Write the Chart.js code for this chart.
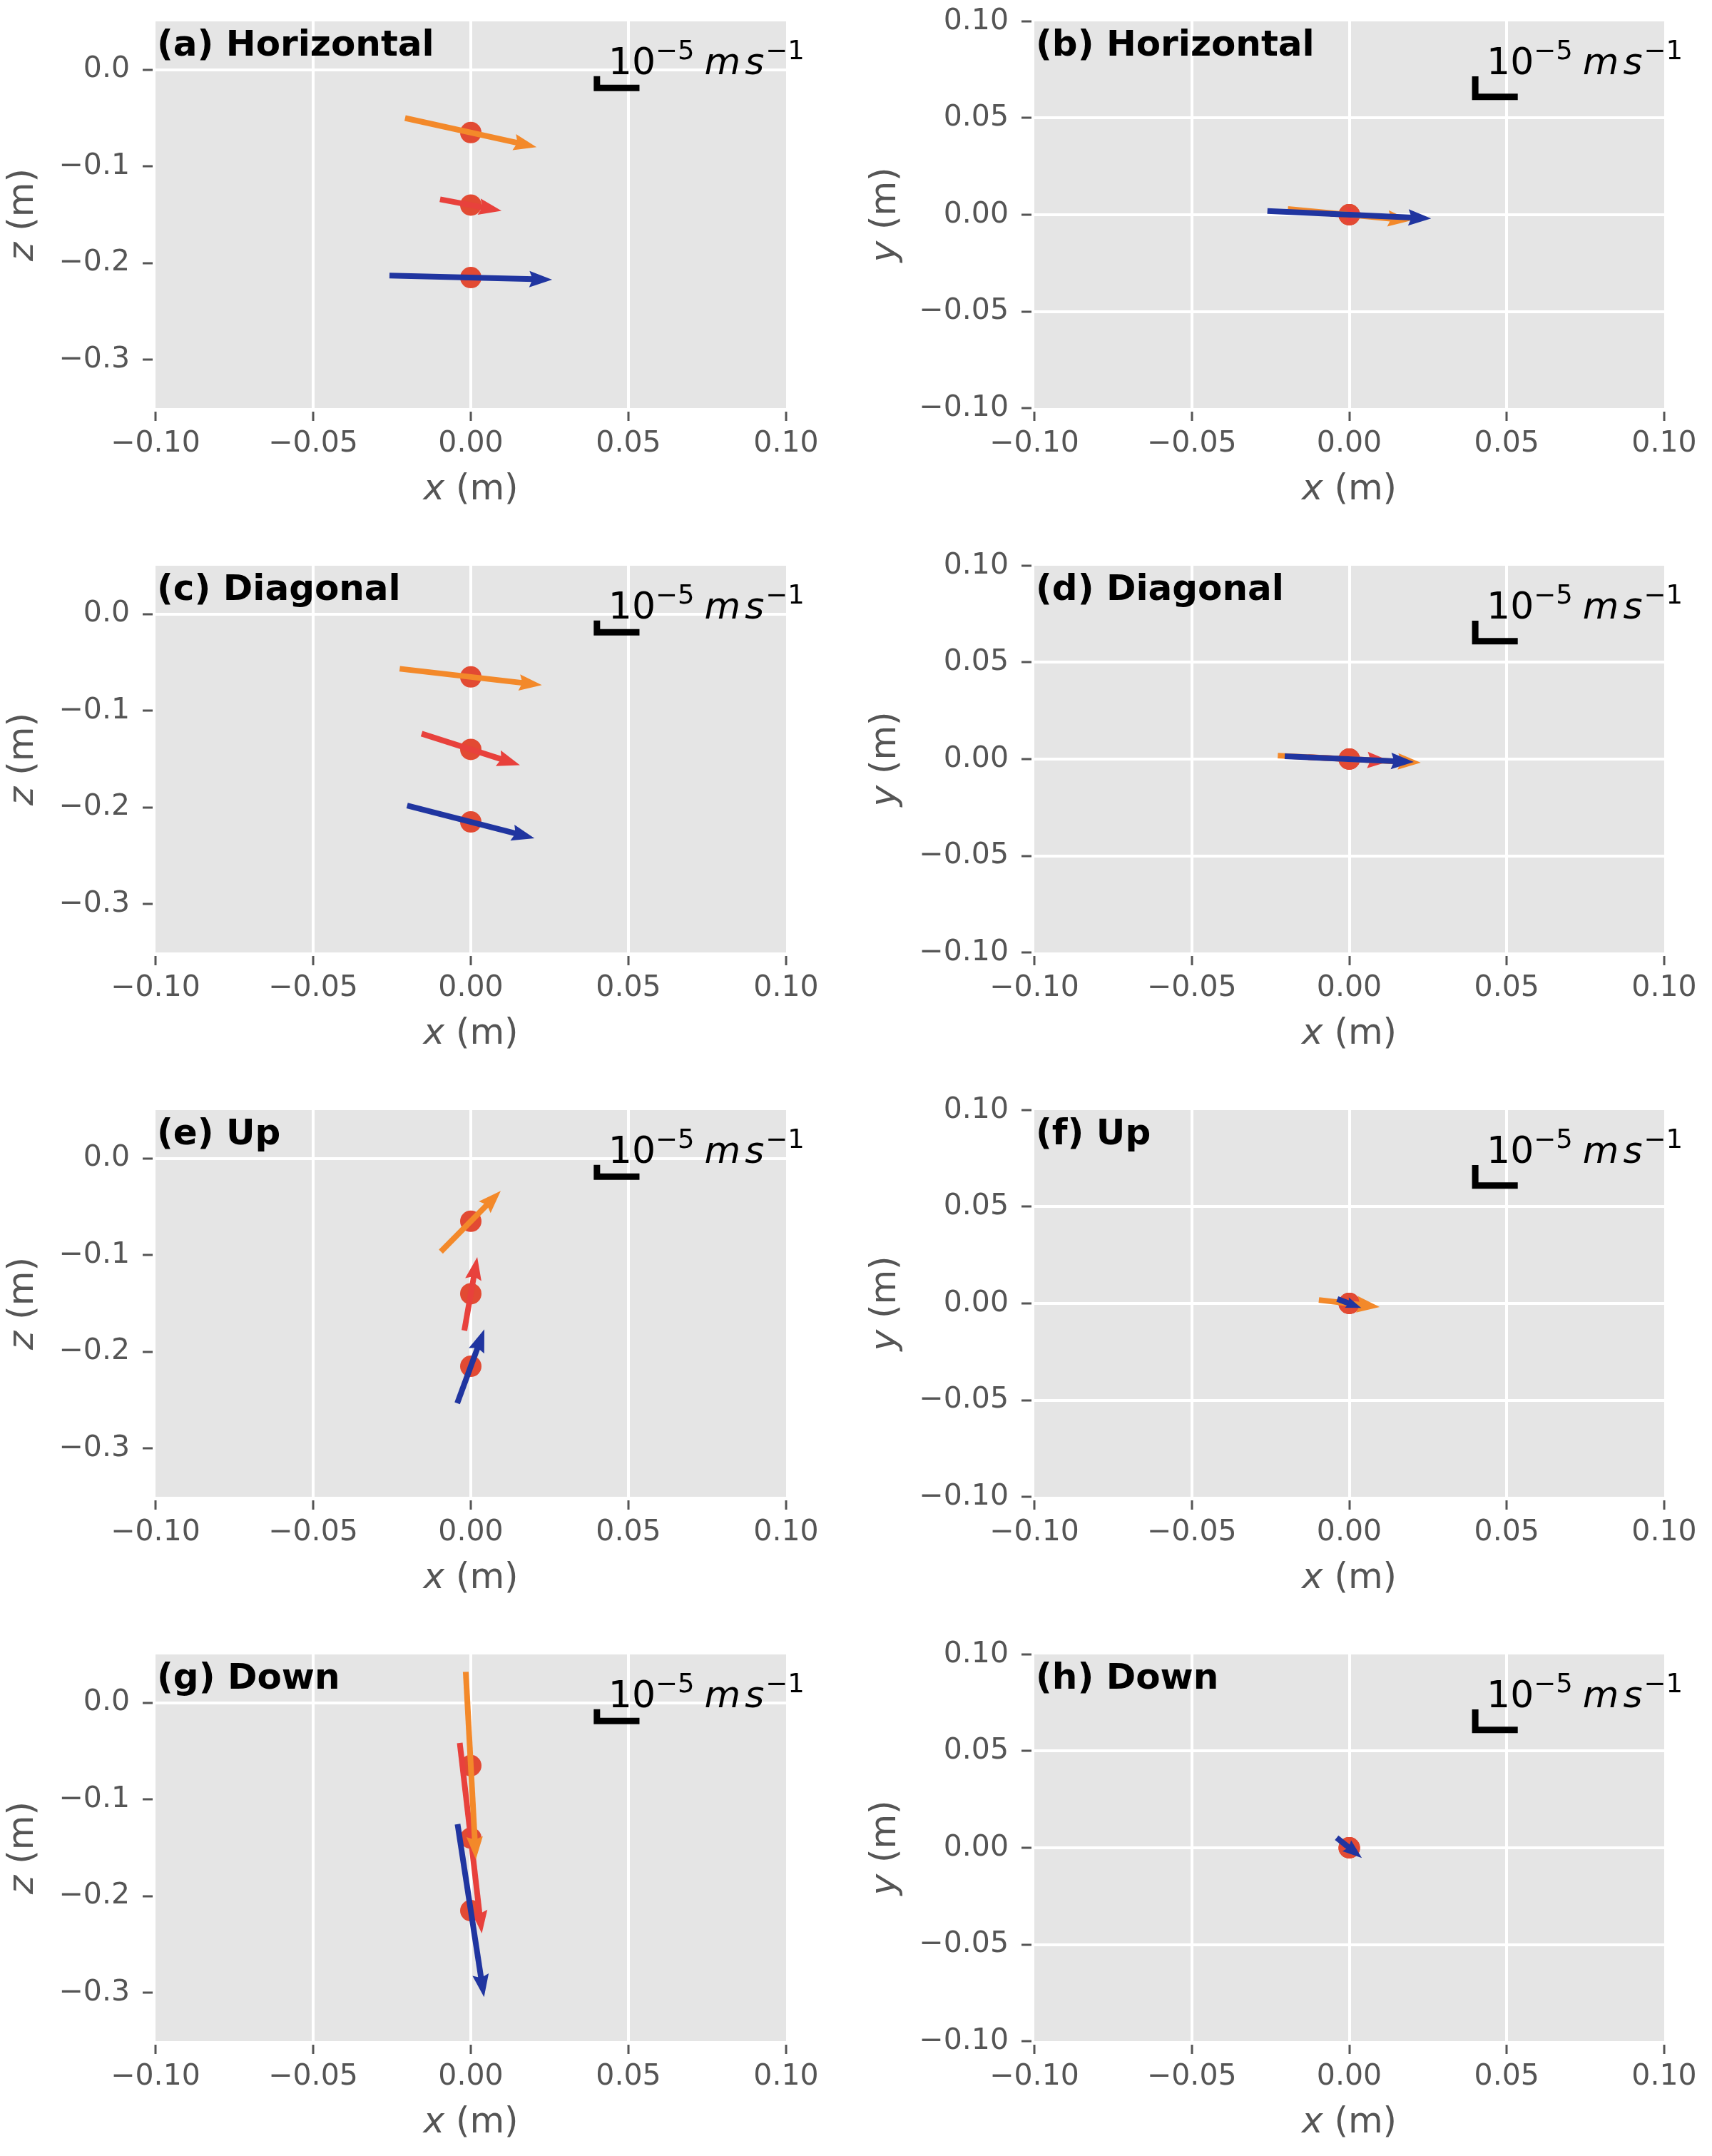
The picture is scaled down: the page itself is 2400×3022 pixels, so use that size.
<!DOCTYPE html>
<html>
<head>
<meta charset="utf-8">
<script src="https://cdn.jsdelivr.net/npm/chart.js@4.4.1/dist/chart.umd.min.js"></script>
<style>
  html, body { margin: 0; padding: 0; background: #fff; overflow: hidden; }
  #fig { position: relative; width: 2400px; height: 3022px; overflow: hidden; }
  #fig canvas { position: absolute; }
</style>
</head>
<body>
<div id="fig"></div>
<script>
// tick labels
const xTicks = [-0.10, -0.05, 0.00, 0.05, 0.10];
const zTicks = [0.0, -0.1, -0.2, -0.3];
const yTicks = [-0.10, -0.05, 0.00, 0.05, 0.10];

// probe positions (the dots)
const probeX = [0, 0, 0];
const probeZ = [-0.065, -0.14, -0.215];
const probeY = [0, 0, 0];

// arrow components in axis units (orange, red, blue), drawn centred on the probe
// x-z panels
const aU = [0.0417, 0.0195, 0.0516], aW = [-0.0300, -0.0120, -0.0043];
const cU = [0.0451, 0.0312, 0.0404], cW = [-0.0169, -0.0325, -0.0340];
const eU = [0.0190, 0.0041, 0.0086], eW = [0.0628, 0.0760, 0.0764];
const gU = [0.0032, 0.0070, 0.0084], gW = [-0.1940, -0.1970, -0.1790];
// x-y panels
const bU = [0.0390, 0.0120, 0.0520], bV = [-0.0060, -0.0010, -0.0038];
const dU = [0.0454, 0.0260, 0.0410], dV = [-0.0036, -0.0020, -0.0030];
const fU = [0.0193, 0.0050, 0.0076], fV = [-0.0036, -0.0010, -0.0046];
const hU = [0.0020, 0.0040, 0.0080], hV = [-0.0020, -0.0040, -0.0105];

const panelTitles = ['(a) Horizontal', '(b) Horizontal', '(c) Diagonal', '(d) Diagonal',
                     '(e) Up', '(f) Up', '(g) Down', '(h) Down'];
const panelU = [aU, bU, cU, dU, eU, fU, gU, hU];
const panelV = [aW, bV, cW, dV, eW, fV, gW, hV];

// styles
const arrowColors = ['#F3892A', '#E8413C', '#2035A0'];
const arrowOrder = [3, 4, 2];          // red under orange under blue
const dotColor = '#E24A33';
const bgColor = '#E5E5E5';
const tickColor = '#555555';
const FONT = '"DejaVu Sans"';

const minus = s => s.replace('-', '\u2212');

function drawParts(ctx, parts, x, y, align) {
  let total = 0;
  parts.forEach(p => { ctx.font = p.font; total += ctx.measureText(p.t).width + (p.gap || 0); });
  let cx = align === 'center' ? x - total / 2 : x;
  parts.forEach(p => {
    ctx.font = p.font;
    ctx.fillText(p.t, cx, y + (p.dy || 0));
    cx += ctx.measureText(p.t).width + (p.gap || 0);
  });
}

const panelPlugin = {
  id: 'panel',
  beforeDraw(chart) {
    const a = chart.chartArea, ctx = chart.ctx;
    ctx.save();
    ctx.fillStyle = bgColor;
    ctx.fillRect(a.left, a.top, a.right - a.left, a.bottom - a.top);
    ctx.restore();
  },
  afterDatasetsUpdate(chart) {
    chart.data.datasets.forEach((ds, i) => {
      if (!ds.arrow) return;
      const meta = chart.getDatasetMeta(i);
      const p0 = meta.data[0], p1 = meta.data[1];
      const dx = p1.x - p0.x, dy = p1.y - p0.y;
      const len = Math.hypot(dx, dy) || 1;
      const ux = dx / len, uy = dy / len;
      const hl = Math.min(32, len * 0.6);
      meta.$tip = { x: p1.x, y: p1.y, ux, uy, hl };
      p1.x = p1.x - ux * hl * 0.8;
      p1.y = p1.y - uy * hl * 0.8;
    });
  },
  afterDatasetDraw(chart, args) {
    const ds = chart.data.datasets[args.index];
    if (!ds.arrow) return;
    const t = args.meta.$tip, ctx = chart.ctx;
    const hw = t.hl * 0.36, px = -t.uy, py = t.ux;
    const bx = t.x - t.ux * t.hl, by = t.y - t.uy * t.hl;
    const nx = t.x - t.ux * t.hl * 0.86, ny = t.y - t.uy * t.hl * 0.86;
    ctx.save();
    ctx.fillStyle = ds.borderColor;
    ctx.beginPath();
    ctx.moveTo(t.x, t.y);
    ctx.lineTo(bx + px * hw, by + py * hw);
    ctx.lineTo(nx, ny);
    ctx.lineTo(bx - px * hw, by - py * hw);
    ctx.closePath();
    ctx.fill();
    ctx.restore();
  },
  afterDraw(chart) {
    const o = chart.options.plugins.panel;
    const a = chart.chartArea, ctx = chart.ctx;
    const xs = chart.scales.x;
    ctx.save();
    // panel title
    ctx.fillStyle = '#000';
    ctx.textBaseline = 'alphabetic';
    ctx.font = 'bold 50px ' + FONT;
    ctx.fillText(o.title, a.left + o.titleDx, a.top + 48);
    // scale-key text
    drawParts(ctx, [
      { t: '10', font: '52px ' + FONT },
      { t: '\u22125', font: '37px ' + FONT, dy: -21, gap: 14 },
      { t: 'm', font: 'italic 52px ' + FONT, gap: 6 },
      { t: 's', font: 'italic 52px ' + FONT, gap: 2 },
      { t: '\u22121', font: '37px ' + FONT, dy: -21 }
    ], xs.getPixelForValue(0.04) + 16, a.top + 74, 'left');
    // axis titles
    ctx.fillStyle = tickColor;
    ctx.textBaseline = 'middle';
    drawParts(ctx, [
      { t: 'x', font: 'italic 50px ' + FONT },
      { t: ' (m)', font: '50px ' + FONT }
    ], (a.left + a.right) / 2, a.bottom + 115, 'center');
    ctx.translate(o.yTitleX, (a.top + a.bottom) / 2);
    ctx.rotate(-Math.PI / 2);
    drawParts(ctx, [
      { t: o.yName, font: 'italic 50px ' + FONT },
      { t: ' (m)', font: '50px ' + FONT }
    ], 0, 0, 'center');
    ctx.restore();
  }
};

const fig = document.getElementById('fig');

function makePanel(i) {
  const col = i % 2, row = Math.floor(i / 2);
  const W = 1200, H = row === 3 ? 733 : 763;
  const plotLeft = col ? 250 : 218;
  const padRight = col ? 67 : 98;
  const xAxisH = H - 30 - 542;
  const isXY = col === 1;
  const canvas = document.createElement('canvas');
  canvas.width = W; canvas.height = H;
  canvas.style.left = (col * 1200) + 'px';
  canvas.style.top = (row * 763) + 'px';
  canvas.style.width = W + 'px'; canvas.style.height = H + 'px';
  fig.appendChild(canvas);

  const px = probeX, py = isXY ? probeY : probeZ;
  const U = panelU[i], V = panelV[i];
  const datasets = [];
  datasets.push({
    data: px.map((x, k) => ({ x, y: py[k] })),
    pointRadius: 15, pointBackgroundColor: dotColor, pointBorderWidth: 0,
    showLine: false, order: 10
  });
  U.forEach((u, k) => {
    const v = V[k];
    datasets.push({
      data: [{ x: px[k] - u / 2, y: py[k] - v / 2 }, { x: px[k] + u / 2, y: py[k] + v / 2 }],
      showLine: true, borderColor: arrowColors[k], borderWidth: 8,
      borderCapStyle: 'butt', pointRadius: 0, order: arrowOrder[k], arrow: true
    });
  });
  // scale key
  const kc = isXY ? 0.061 : -0.0188, kt = isXY ? 0.0716 : -0.0066;
  datasets.push({
    data: [{ x: 0.0535, y: kc }, { x: 0.04, y: kc }, { x: 0.04, y: kt }],
    showLine: true, borderColor: '#000', borderWidth: 9, borderCapStyle: 'butt',
    borderJoinStyle: 'miter', pointRadius: 0, order: 1
  });

  const yT = isXY ? yTicks : zTicks;
  const yDigits = isXY ? 2 : 1;
  const edgeless = v => (Math.abs(v) > 0.0999 ? 'rgba(0,0,0,0)' : '#ffffff');

  new Chart(canvas, {
    type: 'scatter',
    data: { datasets },
    options: {
      responsive: false, animation: false, devicePixelRatio: 1,
      layout: { padding: { top: 30, right: padRight, left: 0, bottom: 0 } },
      plugins: {
        legend: { display: false }, tooltip: { enabled: false },
        panel: {
          title: panelTitles[i], titleDx: 2,
          yName: isXY ? 'y' : 'z', yTitleX: col ? 42 : 33
        }
      },
      scales: {
        x: {
          type: 'linear', min: -0.1, max: 0.1,
          afterFit: s => { s.height = xAxisH; },
          afterBuildTicks: s => { s.ticks = xTicks.map(v => ({ value: v })); },
          border: { display: false },
          grid: {
            color: c => edgeless(c.tick.value), lineWidth: 4,
            tickColor: tickColor, tickWidth: 3, tickLength: 18,
            tickBorderDash: [0, 5, 13, 1000]
          },
          ticks: {
            autoSkip: false, maxRotation: 0, padding: 8, color: tickColor,
            font: { family: 'DejaVu Sans', size: 41 },
            callback: v => minus(v.toFixed(2))
          }
        },
        y: {
          type: 'linear', min: isXY ? -0.1 : -0.35, max: isXY ? 0.1 : 0.05,
          afterFit: s => { s.width = plotLeft; },
          afterBuildTicks: s => { s.ticks = yT.map(v => ({ value: v })); },
          border: { display: false },
          grid: {
            color: c => edgeless(c.tick.value), lineWidth: 4,
            tickColor: tickColor, tickWidth: 3, tickLength: 27,
            tickBorderDash: [0, 9, 14, 1000]
          },
          ticks: {
            autoSkip: false, padding: 9, color: tickColor,
            font: { family: 'DejaVu Sans', size: 41, lineHeight: 1.0 },
            callback: v => minus(v.toFixed(yDigits))
          }
        }
      }
    },
    plugins: [panelPlugin]
  });
}

for (let i = 0; i < 8; i++) makePanel(i);
</script>
</body>
</html>
